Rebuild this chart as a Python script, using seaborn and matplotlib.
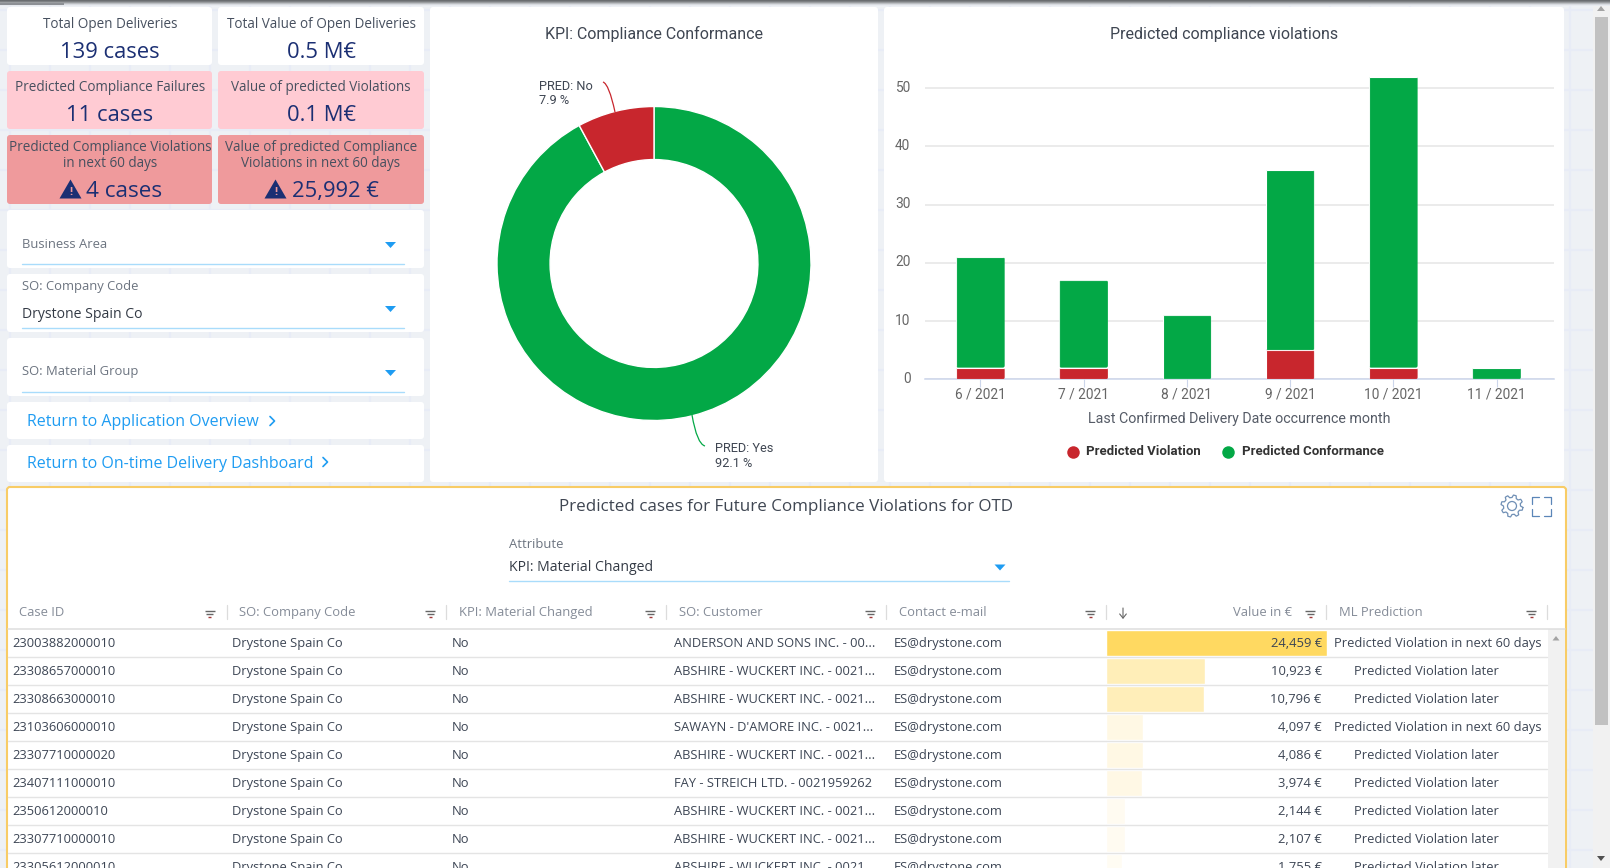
import numpy as np
import pandas as pd
import matplotlib
matplotlib.use("Agg")
import matplotlib.pyplot as plt
import seaborn as sns
from matplotlib.patches import FancyBboxPatch, PathPatch, Polygon, Rectangle, Circle
from matplotlib.path import Path
from matplotlib.transforms import IdentityTransform, ScaledTranslation

# -----------------------------
# Data
# -----------------------------
pie_labels = ["PRED: Yes", "PRED: No"]
pie_values = [92.1, 7.9]

months = ["6 / 2021", "7 / 2021", "8 / 2021", "9 / 2021", "10 / 2021", "11 / 2021"]
violations = [2, 2, 0, 5, 2, 0]
conformance = [19, 15, 11, 31, 50, 2]
y_ticks = [0, 10, 20, 30, 40, 50]

case_ids = ["23003882000010", "23308657000010", "23308663000010", "23103606000010", "23307710000020",
            "23407111000010", "2350612000010", "23307710000010", "23305612000010"]
companies = ["Drystone Spain Co"] * 9
material_changed = ["No"] * 9
customers = ["ANDERSON AND SONS INC. - 00...", "ABSHIRE - WUCKERT INC. - 0021...", "ABSHIRE - WUCKERT INC. - 0021...",
             "SAWAYN - D'AMORE INC. - 0021...", "ABSHIRE - WUCKERT INC. - 0021...", "FAY - STREICH LTD. - 0021959262",
             "ABSHIRE - WUCKERT INC. - 0021...", "ABSHIRE - WUCKERT INC. - 0021...", "ABSHIRE - WUCKERT INC. - 0021..."]
emails = ["ES@drystone.com"] * 9
case_values = [24459, 10923, 10796, 4097, 4086, 3974, 2144, 2107, 1755]
predictions = ["Predicted Violation in next 60 days", "Predicted Violation later", "Predicted Violation later",
               "Predicted Violation in next 60 days", "Predicted Violation later", "Predicted Violation later",
               "Predicted Violation later", "Predicted Violation later", "Predicted Violation later"]

GREEN = "#03a846"
RED = "#c8262d"
NAVY = "#1b2f73"
TITLE = "#47505f"
BLUE = "#1e9cf2"
UI = "Open Sans"
CHART = "Roboto"
W, H = 1610, 868

sns.set_theme(style="white")
plt.rcParams["font.family"] = [UI, "DejaVu Sans"]


def px_axes(fig, x0, y0, x1, y1, zorder):
    ax = fig.add_axes([x0 / W, 1 - y1 / H, (x1 - x0) / W, (y1 - y0) / H], zorder=zorder)
    ax.patch.set_alpha(0)
    return ax


fig = plt.figure(figsize=(W / 100, H / 100), dpi=100, facecolor="#eef1f5")
bg = px_axes(fig, 0, 0, W, H, 0)
fg = px_axes(fig, 0, 0, W, H, 5)
for a in (bg, fg):
    a.set_xlim(0, W)
    a.set_ylim(H, 0)
    a.axis("off")


def card(x0, y0, x1, y1, color="white", r=3, **kw):
    bg.add_patch(FancyBboxPatch((x0 + r, y0 + r), x1 - x0 - 2 * r, y1 - y0 - 2 * r,
                                boxstyle=f"round,pad={r},rounding_size={r}", fc=color, ec=kw.get("ec", "none"),
                                lw=kw.get("lw", 0), zorder=kw.get("zorder", 2)))


def txt(x, y, s, size=13, color=TITLE, ha="center", font=UI, **kw):
    fg.text(x, y, s, fontsize=size * 0.72, color=color, ha=ha, va="center", family=font, **kw)


def triangle_down(x, y, w=11, h=6):
    fg.add_patch(Polygon([(x - w / 2, y), (x + w / 2, y), (x, y + h)], fc=BLUE, ec="none"))


def filter_icon(x, y):
    for dy, half, c in [(-3, 5, "#666666"), (0, 3.5, "#666666"), (3, 1.5, "#a33a3a")]:
        fg.plot([x - half, x + half], [y + dy, y + dy], color=c, lw=1.0, solid_capstyle="butt")


# -----------------------------
# Page background
# -----------------------------
for gx in range(10, 1590, 40):
    bg.plot([gx, gx], [0, H], color="#e8ecf6", lw=1.6, zorder=0)
for gy in range(10, H, 40):
    bg.plot([0, 1592], [gy, gy], color="#e8ecf6", lw=1.6, zorder=0)
for i, c in enumerate(["#6a6d70", "#7d8083", "#9a9da0", "#bbbec2", "#d8dbe0", "#e8ebf0"]):
    bg.add_patch(Rectangle((0, i), W, 1, fc=c, ec="none", zorder=1))
bg.add_patch(Rectangle((0, 3), 64, 2, fc="#8d9095", ec="none", zorder=1))

# page scrollbar
bg.add_patch(Rectangle((1593, 6), 17, H, fc="#f1f1f1", ec="none", zorder=1))
bg.add_patch(Rectangle((1595, 17), 13, 708, fc="#c1c1c1", ec="none", zorder=2))
fg.add_patch(Polygon([(1597, 11), (1605, 11), (1601, 6)], fc="#a3a3a3", ec="none"))
fg.add_patch(Polygon([(1597, 856), (1605, 856), (1601, 861)], fc="#505050", ec="none"))

# -----------------------------
# KPI cards
# -----------------------------
PINK = "#ffcbd3"
DPINK = "#ef9a9c"
card(7, 7, 212, 65)
card(218, 7, 424, 65)
card(7, 71, 212, 129, PINK)
card(218, 71, 424, 129, PINK)
card(7, 135, 212, 204, DPINK)
card(218, 135, 424, 204, DPINK)

txt(110, 24, "Total Open Deliveries", 13.5)
txt(110, 52, "139 cases", 22, NAVY)
txt(321, 24, "Total Value of Open Deliveries", 13.5)
txt(321, 52, "0.5 M€", 22, NAVY)
txt(110, 87.5, "Predicted Compliance Failures", 13.5)
txt(110, 115.5, "11 cases", 22, NAVY)
txt(321, 87.5, "Value of predicted Violations", 13.5)
txt(321, 115.5, "0.1 M€", 22, NAVY)
txt(110, 147.5, "Predicted Compliance Violations", 13.5)
txt(110, 163.5, "in next 60 days", 13.5)
txt(124, 191.5, "4 cases", 22.5, NAVY)
txt(321, 147.5, "Value of predicted Compliance", 13.5)
txt(321, 163.5, "Violations in next 60 days", 13.5)
txt(335, 191.5, "25,992 €", 22, NAVY)
for tx in (70.5, 275.5):
    fg.add_patch(Polygon([(tx - 11, 198.5), (tx + 11, 198.5), (tx, 179.5)], fc=NAVY, ec="none"))
    fg.text(tx, 192.5, "!", color=DPINK, fontsize=8, fontweight="bold", ha="center", va="center")

# -----------------------------
# Filters and links
# -----------------------------
for y0, y1 in [(210, 268), (274, 332), (338, 396), (402, 439), (445, 482)]:
    card(7, y0, 424, y1)
for ly, col in [(264, "#a9dcfb"), (328, "#a9dcfb"), (392, "#a9dcfb")]:
    fg.plot([22, 404], [ly, ly], color=col, lw=1)
txt(22, 244, "Business Area", 13, "#6c7480", ha="left")
txt(22, 286.5, "SO: Company Code", 13, "#6c7480", ha="left")
txt(22, 314, "Drystone Spain Co", 14, "#333a45", ha="left")
txt(22, 372, "SO: Material Group", 13, "#6c7480", ha="left")
for ty in (242, 306, 370):
    triangle_down(390.5, ty)
txt(27, 422.5, "Return to Application Overview", 16, BLUE, ha="left")
txt(27, 464, "Return to On-time Delivery Dashboard", 16, BLUE, ha="left")
for cx, cy in [(270, 421), (323, 462)]:
    fg.plot([cx, cx + 4.5, cx], [cy - 4.5, cy, cy + 4.5], color=BLUE, lw=1.2)

# -----------------------------
# Donut
# -----------------------------
card(430, 7, 878, 482)
txt(654, 34, "KPI: Compliance Conformance", 16, "#3f4652", font=CHART)

ax_pie = px_axes(fig, 654 - 157, 263.5 - 157, 654 + 157, 263.5 + 157, 2)
ax_pie.pie(pie_values, colors=[GREEN, RED], startangle=90, counterclock=False, radius=1,
           wedgeprops=dict(width=0.338, edgecolor="white", linewidth=1))
ax_pie.set_xlim(-1, 1)
ax_pie.set_ylim(-1, 1)

txt(539, 86, pie_labels[1], 12.7, "#3f4652", ha="left", font=CHART)
txt(539, 101, f"{pie_values[1]} %", 12.7, "#3f4652", ha="left", font=CHART)
txt(715, 448, pie_labels[0], 12.7, "#3f4652", ha="left", font=CHART)
txt(715, 463.5, f"{pie_values[0]} %", 12.7, "#3f4652", ha="left", font=CHART)
fg.add_patch(PathPatch(Path([(603, 82), (609, 84), (615, 112)], [Path.MOVETO, Path.CURVE3, Path.CURVE3]),
                       fc="none", ec=RED, lw=0.9))
fg.add_patch(PathPatch(Path([(692, 415), (697, 444), (705, 446)], [Path.MOVETO, Path.CURVE3, Path.CURVE3]),
                       fc="none", ec=GREEN, lw=0.9))

# -----------------------------
# Stacked bars
# -----------------------------
card(884, 7, 1564, 482)
txt(1224.5, 34, "Predicted compliance violations", 16, "#3f4652", font=CHART)

df_bars = pd.DataFrame({"month": months, "violation": violations, "conformance": conformance})
ax_bar = px_axes(fig, 925, 60, 1554, 379.3, 2)
sns.barplot(data=df_bars, x="month", y="conformance", bottom=df_bars["violation"], color=GREEN, saturation=1,
            width=0.47, edgecolor="white", linewidth=0.8, ax=ax_bar, zorder=3)
sns.barplot(data=df_bars, x="month", y="violation", color=RED, saturation=1,
            width=0.47, edgecolor="white", linewidth=0.8, ax=ax_bar, zorder=3)
ax_bar.set_xlim(-0.537, 5.556)
ax_bar.set_ylim(0, 54.86)
ax_bar.set_yticks(y_ticks)
ax_bar.grid(axis="y", color="#e6e6e6", lw=1.1, zorder=0)
ax_bar.set_axisbelow(True)
sns.despine(ax=ax_bar, left=True, top=True, right=True)
ax_bar.spines["bottom"].set_color("#ccd6eb")
ax_bar.spines["bottom"].set_linewidth(1.1)
ax_bar.tick_params(axis="x", length=5.5, width=0.8, color="#ccd6eb", labelcolor="#666666", labelsize=9.9, pad=0.5, bottom=True)
ax_bar.tick_params(axis="y", length=0, labelcolor="#666666", labelsize=9.9, pad=10.5)
for lab in ax_bar.get_xticklabels() + ax_bar.get_yticklabels():
    lab.set_family(CHART)
for lab in ax_bar.get_yticklabels():
    lab.set_transform(lab.get_transform() + ScaledTranslation(0, 2 / 100, fig.dpi_scale_trans))
ax_bar.set_xlabel("")
ax_bar.set_ylabel("")
txt(1239.5, 418.5, "Last Confirmed Delivery Date occurrence month", 14.2, "#555b66", font=CHART)

# small rounded corners on the bars
for p in ax_bar.patches:
    if p.get_height() > 0:
        ext = p.get_window_extent()
        clip = FancyBboxPatch((ext.x0 + 2, ext.y0 + 2), ext.width - 4, ext.height - 4,
                              boxstyle="round,pad=2,rounding_size=2", transform=IdentityTransform())
        p.set_clip_path(clip)

fg.plot([1072.7], [451.5], "o", ms=9, color=RED, mec="none")
txt(1086, 451.5, "Predicted Violation", 13.2, "#333333", ha="left", font=CHART, fontweight="bold")
fg.plot([1228], [451.5], "o", ms=9, color=GREEN, mec="none")
txt(1241.7, 451.5, "Predicted Conformance", 13.2, "#333333", ha="left", font=CHART, fontweight="bold")

# -----------------------------
# Table panel
# -----------------------------
card(7, 487, 1566, 900, ec="#f8cc66", lw=1.5)
txt(786, 507, "Predicted cases for Future Compliance Violations for OTD", 17, "#3f4652")
txt(509, 544.5, "Attribute", 13, "#6c7480", ha="left")
txt(509, 567.5, "KPI: Material Changed", 14, "#333a45", ha="left")
fg.plot([509, 1009], [581, 581], color="#a9dcfb", lw=1)
triangle_down(1000, 564.5)

# gear + fullscreen icons
ang = np.linspace(0, 2 * np.pi, 49)
rad = np.where((np.arange(49) % 6) < 3, 11, 8.5)
fg.plot(1512 + rad * np.cos(ang + 0.13), 506 + rad * np.sin(ang + 0.13), color="#6f8fb5", lw=0.9)
fg.add_patch(Circle((1512, 506), 4.5, fc="none", ec="#6f8fb5", lw=0.9))
for cx, sx in [(1532, 1), (1551, -1)]:
    for cy, sy in [(497, 1), (516, -1)]:
        fg.plot([cx + sx * 7, cx, cx], [cy, cy, cy + sy * 7], color="#5b86b8", lw=0.9)

# table scrollbar
bg.add_patch(Rectangle((1548, 629), 17, 240, fc="#f1f1f1", ec="none", zorder=3))
fg.add_patch(Polygon([(1552.5, 640.5), (1559.5, 640.5), (1556, 636)], fc="#a3a3a3", ec="none"))

# header
headers = ["Case ID", "SO: Company Code", "KPI: Material Changed", "SO: Customer", "Contact e-mail"]
head_x = [19, 239, 459, 678.6, 899]
cell_x = [12, 232, 452, 674, 894]
for hx, h in zip(head_x, headers):
    txt(hx, 612.5, h, 13, "#858c98", ha="left")
txt(1292, 612.5, "Value in €", 13, "#858c98", ha="right")
txt(1339, 612.5, "ML Prediction", 13, "#858c98", ha="left")
fg.annotate("", xy=(1123, 619), xytext=(1123, 608), arrowprops=dict(arrowstyle="->,head_width=0.2,head_length=0.25", color="#666666", lw=0.8, shrinkA=0, shrinkB=0))
for fx in (209.7, 430, 650, 870, 1090, 1310, 1531):
    filter_icon(fx, 614)
for sx in (226.5, 446.4, 666, 886, 1106, 1326, 1547):
    fg.plot([sx, sx], [605, 619], color="#dcdcdc", lw=0.9)

# rows
ROW_H = 28
TOP = 629
fg.plot([8, 1565], [TOP, TOP], color="#dedede", lw=1.1)
for i in range(len(case_ids)):
    yc = TOP + ROW_H * i + 14.7
    row = [case_ids[i], companies[i], material_changed[i], customers[i], emails[i]]
    for cx, s in zip(cell_x, row):
        txt(cx, yc, s, 12.9, "#3c4554", ha="left")
    txt(1321.7, yc, f"{case_values[i]:,} €", 13, "#3c4554", ha="right")
    # the shorter label sits a bit left of the column centre in the reference
    px = 1438 if "next" in predictions[i] else 1426
    txt(px, yc, predictions[i], 12.9, "#3c4554")
    fg.plot([8, 1547], [TOP + ROW_H * (i + 1)] * 2, color="#e4e4e4", lw=1.0)

# value bars in the table
vmax = max(case_values)
bar_colors = [(1.0, 0.85, 0.38, v / vmax) for v in case_values]
ax_val = px_axes(fig, 1106, TOP, 1327, H, 2)
sns.barplot(x=case_values, y=case_ids, hue=case_ids, palette=bar_colors, saturation=1, width=0.96,
            dodge=False, legend=False, ax=ax_val)
ax_val.set_xlim(0, vmax)
ax_val.set_ylim((H - TOP) / ROW_H - 0.5, -0.5)
ax_val.axis("off")

fig.savefig("out.png", dpi=100, facecolor=fig.get_facecolor())
